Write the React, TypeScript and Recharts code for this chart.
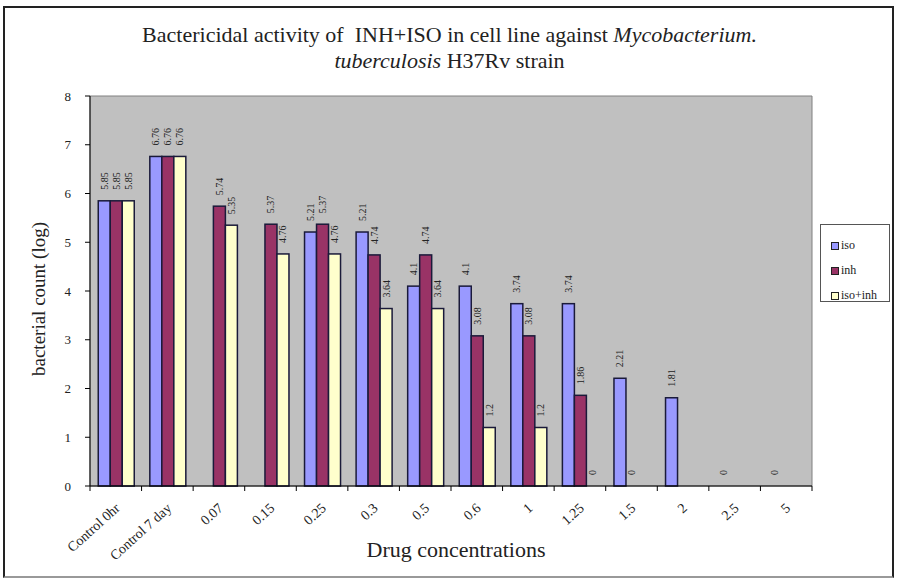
import React from "react"
import { BarChart, Bar, XAxis, YAxis, Legend, ReferenceArea, Label } from "recharts"

const categories = ["Control 0hr", "Control 7 day", "0.07", "0.15", "0.25", "0.3", "0.5", "0.6", "1", "1.25", "1.5", "2", "2.5", "5"]
const isoValues = [5.85, 6.76, null, null, 5.21, 5.21, 4.1, 4.1, 3.74, 3.74, 2.21, 1.81, 0, 0]
const inhValues = [5.85, 6.76, 5.74, 5.37, 5.37, 4.74, 4.74, 3.08, 3.08, 1.86, 0, null, null, null]
const comboValues = [5.85, 6.76, 5.35, 4.76, 4.76, 3.64, 3.64, 1.2, 1.2, 0, null, null, null, null]
const yTicks = [0, 1, 2, 3, 4, 5, 6, 7, 8]

const series = [
  { key: "iso", name: "iso", color: "#9999ff" },
  { key: "inh", name: "inh", color: "#993366" },
  { key: "combo", name: "iso+inh", color: "#ffffcc" },
]

const data = categories.map((c, i) => ({
  name: c,
  iso: isoValues[i],
  inh: inhValues[i],
  combo: comboValues[i],
}))

const FONT = "'Liberation Serif', 'Times New Roman', serif"
const BAND = 722 / categories.length

// bar + its rotated value label, so zero-height bars still get their "0"
const BarWithLabel = (props: any) => {
  const { x, y, width, height, fill, value } = props
  const v = Array.isArray(value) ? value[1] : value
  if (v === null || v === undefined) return null
  const cx = x + width / 2
  const sy = y - 11
  return (
    <g>
      {height > 0 && (
        <rect x={x} y={y} width={width} height={height} fill={fill} stroke="#1a1a3a" strokeWidth={1.5} />
      )}
      <text
        x={cx}
        y={sy}
        transform={`rotate(-90 ${cx} ${sy})`}
        textAnchor="start"
        dominantBaseline="central"
        fontSize={10}
        fontFamily={FONT}
        fill="#222"
      >
        {v}
      </text>
    </g>
  )
}

const XTick = (props: any) => {
  const { x, y, payload, index } = props
  const last = index === categories.length - 1
  return (
    <g>
      <line x1={x - BAND / 2} y1={y - 8} x2={x - BAND / 2} y2={y - 3} stroke="#000" />
      {last && <line x1={x + BAND / 2} y1={y - 8} x2={x + BAND / 2} y2={y - 3} stroke="#000" />}
      <text
        x={x + 2}
        y={y + 12}
        transform={`rotate(-42 ${x + 2} ${y + 12})`}
        textAnchor="end"
        dominantBaseline="central"
        fontSize={14}
        fontFamily={FONT}
        fill="#222"
      >
        {payload.value}
      </text>
    </g>
  )
}

const LegendBox = () => (
  <div
    style={{
      border: "1px solid #555",
      background: "#fff",
      width: 70,
      height: 78,
      boxSizing: "border-box",
      paddingTop: 8,
      paddingLeft: 10,
      fontFamily: FONT,
      fontSize: 12,
      color: "#222",
    }}
  >
    {series.map((s) => (
      <div key={s.key} style={{ display: "flex", alignItems: "center", height: 25 }}>
        <span style={{ width: 6, height: 6, background: s.color, border: "1px solid #222", marginRight: 2 }} />
        <span>{s.name}</span>
      </div>
    ))}
  </div>
)

export default function App() {
  return (
    <div style={{ position: "absolute", left: 0, top: 0, width: 899, height: 581, background: "#fff" }}>
      <div
        style={{
          position: "absolute",
          left: 3,
          top: 6,
          width: 887,
          height: 568,
          border: "2px solid #222",
          borderBottomColor: "#999",
        }}
      />
      <div
        style={{
          position: "absolute",
          left: 0,
          top: 22,
          width: 899,
          textAlign: "center",
          fontFamily: FONT,
          fontSize: 22,
          lineHeight: "26px",
          color: "#222",
        }}
      >
        Bactericidal activity of&nbsp; INH+ISO in cell line against <i>Mycobacterium.</i>
        <br />
        <i>tuberculosis</i> H37Rv strain
      </div>
      <BarChart
        width={899}
        height={581}
        data={data}
        margin={{ top: 96, right: 9, bottom: 0, left: 0 }}
        barCategoryGap="16%"
        barGap={0}
        style={{ position: "absolute", left: 0, top: 0 }}
      >
        <ReferenceArea y1={0} y2={8} fill="#c0c0c0" fillOpacity={1} stroke="#808080" />
        <XAxis
          dataKey="name"
          height={95}
          interval={0}
          tickLine={false}
          axisLine={{ stroke: "#000" }}
          tick={<XTick />}
        >
          <Label
            content={() => (
              <text x={456} y={557} textAnchor="middle" fontSize={22} fontFamily={FONT} fill="#222">
                Drug concentrations
              </text>
            )}
          />
        </XAxis>
        <YAxis
          width={90}
          domain={[0, 8]}
          ticks={yTicks}
          interval={0}
          tickSize={5}
          tickLine={{ stroke: "#000" }}
          axisLine={{ stroke: "#000" }}
          tick={{ fontSize: 13, fontFamily: FONT, fill: "#222" }}
          tickMargin={14}
        >
          <Label
            content={() => (
              <text
                x={45}
                y={299}
                transform="rotate(-90 45 299)"
                textAnchor="middle"
                fontSize={19}
                fontFamily={FONT}
                fill="#222"
              >
                bacterial count (log)
              </text>
            )}
          />
        </YAxis>
        <Legend
          layout="vertical"
          align="right"
          verticalAlign="middle"
          content={<LegendBox />}
          wrapperStyle={{ top: 224, right: 9, paddingLeft: 8 }}
        />
        {series.map((s) => (
          <Bar
            key={s.key}
            dataKey={s.key}
            name={s.name}
            fill={s.color}
            stroke="#1a1a3a"
            isAnimationActive={false}
            shape={<BarWithLabel />}
          />
        ))}
      </BarChart>
    </div>
  )
}
